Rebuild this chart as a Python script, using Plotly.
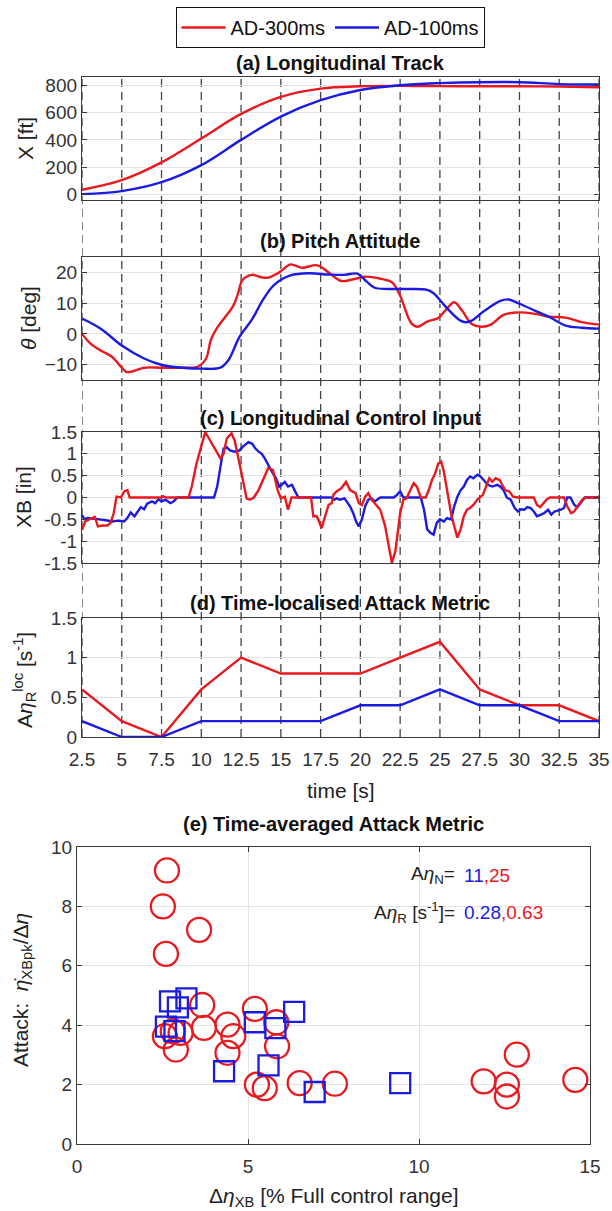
import plotly.graph_objects as go

# ---------------- DATA ----------------
series_names = ["AD-300ms", "AD-100ms"]

time_ticks = [2.5, 5, 7.5, 10, 12.5, 15, 17.5, 20, 22.5, 25, 27.5, 30, 32.5, 35]
time_tick_text = ["2.5", "5", "7.5", "10", "12.5", "15", "17.5", "20", "22.5", "25", "27.5", "30", "32.5", "35"]

# (a) Longitudinal track X [ft]
track_t = [2.5, 5, 7.5, 10, 12.5, 15, 17.5, 20, 22.5, 25, 27.5, 30, 32.5, 35]
track_red = [35, 105, 235, 410, 590, 715, 775, 792, 795, 793, 792, 792, 790, 785]
track_blue = [3, 25, 90, 215, 400, 570, 690, 765, 800, 815, 822, 822, 808, 805]

# (b) Pitch attitude theta [deg]
pitch_t_red = [2.5, 3.0, 3.7, 4.4, 5.0, 5.3, 5.8, 6.4, 7.5, 8.5, 9.8, 10.3, 10.6, 11.0, 11.5, 12.0,
               12.3, 12.6, 13.2, 13.7, 14.2, 14.9, 15.6, 16.3, 17.3, 18.0, 18.8, 19.5, 20.3, 21.2,
               22.0, 22.5, 23.2, 23.6, 24.2, 24.9, 25.4, 25.9, 26.4, 27.0, 27.6, 28.2, 29.0, 30.0,
               31.0, 31.9, 32.9, 33.9, 35.0]
pitch_red = [0, -3, -5.5, -7.5, -11, -12.4, -12.0, -11.0, -11.0, -11.0, -10.6, -8, -2, 2, 5.5, 9,
             13, 17.6, 19.2, 18.5, 18.3, 20, 22.6, 21.5, 22.3, 20, 17.2, 17.7, 18.6, 18,
             16.7, 12.4, 3.5, 2.3, 4, 5.2, 8, 10.3, 7.5, 3.2, 2.3, 3, 6.2, 7,
             6.5, 5.6, 5.3, 3.8, 3.0]
pitch_t_blue = [2.5, 3.7, 5.0, 6.4, 7.6, 8.8, 10.0, 11.2, 11.7, 12.4, 13.2, 13.9, 14.6, 15.6,
                16.8, 18.0, 19.0, 19.8, 20.4, 20.9, 21.7, 23.0, 24.2, 24.6, 25.4, 26.2, 26.6,
                27.0, 27.8, 28.8, 29.3, 30.0, 31.0, 31.9, 32.9, 33.9, 35.0]
pitch_blue = [5, 1.6, -3.8, -8, -10.2, -11, -11.3, -11, -8.6, -1, 4.8, 11.3, 16, 19,
              19.7, 19.3, 19.2, 19.6, 17, 15, 14.6, 14.6, 14.3, 13.2, 8.6, 4.6, 3.8,
              4.3, 7.5, 10.7, 11.2, 9.8, 7.5, 5.4, 2.7, 2.0, 1.7]

# (c) Longitudinal control input XB [in]
xb_t_red = [2.5, 2.7, 2.96, 3.2, 3.3, 3.5, 3.8, 4.1, 4.3, 4.5, 4.67, 4.94, 5.15, 5.35, 5.5, 7.5, 7.6,
            7.8, 9.2, 9.4, 9.7, 10.04, 10.25, 10.56, 10.9, 11.2, 11.4, 11.6, 11.9, 12.1, 12.4,
            12.65, 12.85, 13.05, 13.3, 13.6, 13.9, 14.2, 14.5, 14.8, 15.0, 15.25, 15.45, 15.67,
            16.9, 17.04, 17.25, 17.35, 17.56, 17.8, 18.0, 18.2, 18.3, 18.5, 18.8, 19.1, 19.35,
            19.7, 19.9, 20.1, 20.3, 20.5, 20.7, 20.9, 21.25, 21.56, 21.77, 21.98, 22.2, 22.35,
            22.5, 22.7, 22.9, 23.1, 23.35, 23.55, 23.8, 24.1, 24.3, 24.5, 24.7, 24.9, 25.08,
            25.25, 25.45, 25.7, 25.9, 26.1, 26.3, 26.5, 26.7, 26.9, 27.1, 27.35, 27.7, 27.9,
            28.1, 28.3, 28.5, 28.75, 28.9, 29.1, 29.35, 29.6, 29.9, 30.9, 31.1, 31.3, 31.7,
            31.9, 32.8, 33.0, 33.25, 33.45, 33.65, 33.95, 34.2, 35.0]
xb_red = [-0.74, -0.55, -0.5, -0.47, -0.43, -0.66, -0.64, -0.64, -0.58, -0.35, 0.02, 0.0, 0.14, 0.17,
          0.0, 0.0, 0.03, 0.0, 0.0, 0.25, 0.78, 1.24, 1.5, 1.3, 1.08, 0.9, 1.0, 1.35, 1.47, 1.3,
          0.78, 0.36, -0.02, -0.05, 0.0, 0.17, 0.44, 0.67, 0.63, 0.17, -0.02, 0.02, -0.28, 0.0,
          0.0, -0.43, -0.43, -0.5, -0.7, -0.43, -0.17, -0.13, 0.06, 0.14, 0.21, 0.36, 0.17,
          0.1, -0.13, -0.17, 0.02, 0.1, -0.05, -0.13, -0.28, -0.66, -1.11, -1.5, -1.23, -0.81,
          -0.36, -0.05, -0.02, 0.14, 0.33, 0.25, 0.0, 0.0, 0.17, 0.4, 0.55, 0.78, 0.82,
          0.59, 0.17, -0.36, -0.66, -0.92, -0.73, -0.43, -0.28, -0.24, -0.17, -0.05, 0.06, 0.25,
          0.44, 0.36, 0.44, 0.4, 0.29, 0.17, 0.14, 0.02, 0.0, 0.0, -0.17, -0.22, -0.05,
          0.0, 0.0, -0.2, -0.36, -0.32, -0.2, -0.05, 0.0, 0.0]
xb_t_blue = [2.5, 2.65, 2.85, 3.17, 3.6, 4.0, 4.4, 4.8, 5.15, 5.35, 5.56, 5.8, 6.0, 6.2, 6.4, 6.6,
             6.9, 7.1, 7.3, 7.5, 7.75, 8.06, 8.25, 8.5, 10.8, 11.0, 11.2, 11.4, 11.6, 11.8, 12.1,
             12.4, 12.6, 12.96, 13.2, 13.4, 13.6, 13.8, 14.0, 14.2, 14.5, 14.7, 14.9, 15.05,
             15.25, 15.45, 15.7, 15.9, 16.1, 18.2, 18.35, 18.5, 18.7, 19.0, 19.35, 19.55, 19.73,
             19.9, 20.1, 20.3, 20.5, 20.7, 20.9, 21.25, 22.1, 22.3, 22.5, 22.7, 23.8, 24.0, 24.2,
             24.4, 24.6, 24.8, 25.0, 25.25, 25.45, 25.7, 25.9, 26.1, 26.3, 26.5, 26.7, 26.9,
             27.1, 27.35, 27.55, 27.75, 28.0, 28.3, 28.6, 28.8, 29.0, 29.2, 29.45, 29.7, 29.9,
             30.1, 30.3, 30.5, 30.7, 30.9, 31.1, 31.35, 31.55, 31.8, 32.0, 32.2, 32.4, 32.6,
             32.8, 33.0, 33.2, 33.45, 33.65, 33.85, 34.1, 35.0]
xb_blue = [-0.4, -0.5, -0.47, -0.49, -0.5, -0.52, -0.55, -0.53, -0.55, -0.47, -0.34, -0.43, -0.32,
           -0.22, -0.27, -0.14, -0.09, -0.13, -0.04, -0.09, -0.05, -0.13, -0.09, 0.0, 0.0, 0.25,
           0.7, 1.12, 1.15, 1.08, 1.05, 1.08, 1.16, 1.27, 1.23, 1.12, 1.05, 1.0, 0.89, 0.74,
           0.55, 0.44, 0.25, 0.29, 0.36, 0.25, 0.29, 0.14, 0.0, 0.0, -0.05, -0.02, -0.05, -0.02,
           -0.2, -0.36, -0.55, -0.66, -0.5, -0.2, -0.05, -0.02, -0.09, 0.0, 0.0, 0.06, 0.14, 0.0,
           0.0, -0.28, -0.73, -0.81, -0.85, -0.58, -0.5, -0.55, -0.47, -0.5, -0.2, 0.02, 0.17,
           0.25, 0.4, 0.48, 0.44, 0.52, 0.48, 0.4, 0.29, 0.25, 0.29, 0.25, 0.17, 0.0, -0.05,
           -0.24, -0.32, -0.27, -0.28, -0.22, -0.24, -0.32, -0.43, -0.39, -0.36, -0.28, -0.39,
           -0.32, -0.3, -0.28, -0.24, 0.0, 0.0, -0.17, -0.22, -0.13, 0.0, 0.0]

# (d) Time-localised attack metric
attack_loc_t = [2.5, 5, 7.5, 10, 12.5, 15, 17.5, 20, 22.5, 25, 27.5, 30, 32.5, 35]
attack_loc_red = [0.6, 0.2, 0.0, 0.6, 1.0, 0.8, 0.8, 0.8, 1.0, 1.2, 0.6, 0.4, 0.4, 0.2]
attack_loc_blue = [0.2, 0.0, 0.0, 0.2, 0.2, 0.2, 0.2, 0.4, 0.4, 0.6, 0.4, 0.4, 0.2, 0.2]

# (e) Time-averaged attack metric scatter
delta_red = [2.63, 2.51, 3.57, 2.6, 3.66, 5.2, 2.57, 2.8, 3.03, 2.89, 3.71, 4.4, 4.57, 4.4,
             5.83, 5.85, 5.26, 5.49, 6.51, 7.54, 11.89, 12.57, 12.57, 12.86, 14.57]
attack_red = [9.21, 8.0, 7.21, 6.4, 4.68, 4.55, 3.63, 3.8, 3.74, 3.18, 3.91, 4.02, 3.63, 3.07,
              4.1, 3.29, 2.0, 1.88, 2.05, 2.03, 2.11, 2.0, 1.6, 3.01, 2.16]
delta_blue = [2.72, 3.2, 2.95, 2.6, 2.85, 5.2, 5.8, 6.35, 4.3, 5.6, 6.95, 9.45]
attack_blue = [4.8, 4.9, 4.6, 3.95, 3.8, 4.1, 3.9, 4.45, 2.45, 2.65, 1.75, 2.05]
avg_n = ["11", "25"]
avg_r = ["0.28", "0.63"]

# ---------------- STYLE / LAYOUT ----------------
W, H = 612, 1211
RED = "#e8191f"
BLUE = "#1b1be0"
FONT = "Liberation Sans, Arial, sans-serif"
AX = "#3a3a3a"
TICK = "#333333"

def py(p):
    return 1 - p / H

def pxx(p):
    return p / W

panels = {"a": (77, 200), "b": (257, 380), "c": (432, 563), "d": (618, 737), "e": (847, 1144)}
xdom_ts = [pxx(82), pxx(599)]
xdom_e = [pxx(77), pxx(590)]

fig = go.Figure()

def line(x, y, color, xa, ya, name=None, show=False, shape="linear"):
    fig.add_trace(go.Scatter(x=x, y=y, mode="lines", line=dict(color=color, width=2.4, shape=shape),
                             xaxis=xa, yaxis=ya, name=name, showlegend=show, hoverinfo="skip"))

line(track_t, track_red, RED, "x", "y", series_names[0], True, "spline")
line(track_t, track_blue, BLUE, "x", "y", series_names[1], True, "spline")
line(pitch_t_red, pitch_red, RED, "x2", "y2", shape="spline")
line(pitch_t_blue, pitch_blue, BLUE, "x2", "y2", shape="spline")
line(xb_t_blue, xb_blue, BLUE, "x3", "y3")
line(xb_t_red, xb_red, RED, "x3", "y3")
line(attack_loc_t, attack_loc_red, RED, "x4", "y4")
line(attack_loc_t, attack_loc_blue, BLUE, "x4", "y4")

fig.add_trace(go.Scatter(x=delta_red, y=attack_red, mode="markers", xaxis="x5", yaxis="y5",
                         marker=dict(symbol="circle-open", size=24, color=RED, line=dict(width=2.3, color=RED)),
                         showlegend=False, hoverinfo="skip"))
fig.add_trace(go.Scatter(x=delta_blue, y=attack_blue, mode="markers", xaxis="x5", yaxis="y5",
                         marker=dict(symbol="square-open", size=20, color=BLUE, line=dict(width=2.3, color=BLUE)),
                         showlegend=False, hoverinfo="skip"))

common = dict(showline=True, mirror="ticks", linecolor=AX, linewidth=1.3, zeroline=False,
              tickfont=dict(family=FONT, size=19, color=TICK), ticks="inside", ticklen=5,
              tickcolor=AX, tickwidth=1, automargin=False)

layout = dict(template="none", width=W, height=H, margin=dict(l=0, r=0, t=0, b=0, pad=0, autoexpand=False),
              paper_bgcolor="white", plot_bgcolor="rgba(0,0,0,0)",
              font=dict(family=FONT, color="#222"))

yinfo = {
    "a": dict(range=[-40, 860], tickvals=[0, 200, 400, 600, 800]),
    "b": dict(range=[-15, 25], tickvals=[-10, 0, 10, 20]),
    "c": dict(range=[-1.5, 1.5], tickvals=[-1.5, -1, -0.5, 0, 0.5, 1, 1.5],
              ticktext=["-1.5", "-1", "-0.5", "0", "0.5", "1", "1.5"]),
    "d": dict(range=[0, 1.5], tickvals=[0, 0.5, 1, 1.5], ticktext=["0", "0.5", "1", "1.5"]),
}
for i, key in enumerate(["a", "b", "c", "d"], start=1):
    top, bot = panels[key]
    sfx = "" if i == 1 else str(i)
    layout["xaxis" + sfx] = dict(common, domain=xdom_ts, range=[2.5, 35], anchor="y" + sfx,
                                 tickvals=time_ticks, ticktext=time_tick_text,
                                 showticklabels=(key == "d"), showgrid=False, ticks="",
                                 ticklabelstandoff=5)
    layout["yaxis" + sfx] = dict(common, domain=[py(bot), py(top)], anchor="x" + sfx,
                                 showgrid=True, gridcolor="#e4e4e4", gridwidth=1, **yinfo[key])

top, bot = panels["e"]
layout["xaxis5"] = dict(common, domain=xdom_e, range=[0, 15], anchor="y5", tickvals=[0, 5, 10, 15],
                        showgrid=True, gridcolor="#e4e4e4", ticklabelstandoff=5)
layout["yaxis5"] = dict(common, domain=[py(bot), py(top)], range=[0, 10], anchor="x5",
                        tickvals=[0, 2, 4, 6, 8, 10], showgrid=True, gridcolor="#e4e4e4")

layout["legend"] = dict(orientation="h", x=pxx(330), xanchor="center", y=py(7), yanchor="top",
                        bordercolor="#111", borderwidth=1, bgcolor="white",
                        font=dict(family=FONT, size=20, color="#111"), itemwidth=44,
                        tracegroupgap=0)

fig.update_layout(**layout)

# dashed vertical time lines spanning panels a-d
for t in time_ticks:
    fig.add_shape(type="line", xref="x", yref="paper", x0=t, x1=t,
                  y0=py(panels["d"][1]), y1=py(panels["a"][0]),
                  line=dict(color="#444444", width=1.3, dash="8px,5px"), layer="below")

titles = [("(a) Longitudinal Track", 63), ("(b) Pitch Attitude", 241), ("(c) Longitudinal Control Input", 418),
          ("(d) Time-localised Attack Metric", 603), ("(e) Time-averaged Attack Metric", 824)]
for txt, yc in titles:
    cx = 340 if not txt.startswith("(e)") else 333
    fig.add_annotation(text="<b>" + txt + "</b>", xref="paper", yref="paper", x=pxx(cx), y=py(yc),
                       xanchor="center", yanchor="middle", showarrow=False,
                       font=dict(family=FONT, size=20, color="#111"))

ytitles = [("X [ft]", 25, 139), ("<i>θ</i> [deg]", 28, 318), ("XB [in]", 24, 497),
           ("A<i>η</i><sub>R</sub><sup>loc</sup> [s<sup>-1</sup>]", 24, 680),
           ("Attack:  <i>η̇</i><sub>XBpk</sub>/Δ<i>η</i>", 22, 990)]
for txt, xc, yc in ytitles:
    fig.add_annotation(text=txt, xref="paper", yref="paper", x=pxx(xc), y=py(yc), textangle=-90,
                       xanchor="center", yanchor="middle", showarrow=False,
                       font=dict(family=FONT, size=21, color="#222"))

fig.add_annotation(text="time [s]", xref="paper", yref="paper", x=pxx(341), y=py(790),
                   xanchor="center", yanchor="middle", showarrow=False,
                   font=dict(family=FONT, size=21, color="#222"))
fig.add_annotation(text="Δ<i>η</i><sub>XB</sub> [% Full control range]", xref="paper", yref="paper",
                   x=pxx(334), y=py(1197), xanchor="center", yanchor="middle", showarrow=False,
                   font=dict(family=FONT, size=21, color="#222"))

# metric annotations in panel (e)
fig.add_annotation(text="A<i>η</i><sub>N</sub>=", xref="x5", yref="y5", x=11.1, y=9.05,
                   xanchor="right", yanchor="middle", showarrow=False,
                   font=dict(family=FONT, size=19, color="#222"))
fig.add_annotation(text=f"<span style='color:{BLUE}'>{avg_n[0]}</span><span style='color:{RED}'>,{avg_n[1]}</span>",
                   xref="x5", yref="y5", x=11.25, y=9.05, xanchor="left", yanchor="middle",
                   showarrow=False, font=dict(family=FONT, size=19))
fig.add_annotation(text="A<i>η</i><sub>R</sub> [s<sup>-1</sup>]=", xref="x5", yref="y5", x=11.1, y=7.8,
                   xanchor="right", yanchor="middle", showarrow=False,
                   font=dict(family=FONT, size=19, color="#222"))
fig.add_annotation(text=f"<span style='color:{BLUE}'>{avg_r[0]}</span><span style='color:{RED}'>,{avg_r[1]}</span>",
                   xref="x5", yref="y5", x=11.25, y=7.8, xanchor="left", yanchor="middle",
                   showarrow=False, font=dict(family=FONT, size=19))

fig.write_html("out.html")
